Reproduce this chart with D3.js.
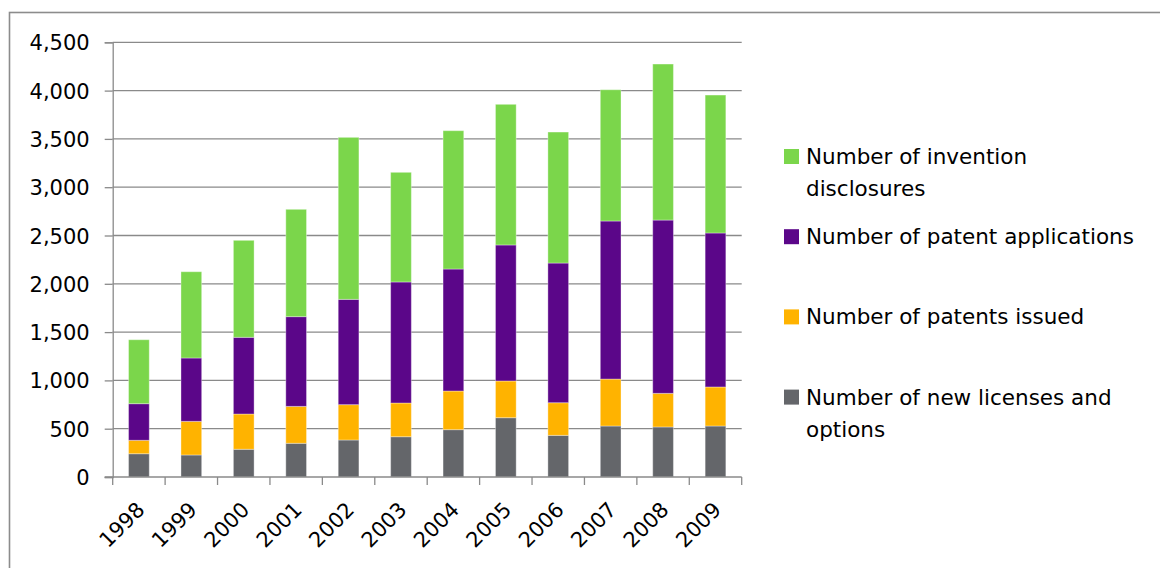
<!DOCTYPE html>
<html>
<head>
<meta charset="utf-8">
<script src="https://cdn.jsdelivr.net/npm/d3@7"></script>
<style>
  html, body { margin: 0; padding: 0; background: #fff; }
  svg { display: block; }
  text { font-family: "DejaVu Sans", sans-serif; fill: #000; }
</style>
</head>
<body>
<svg id="chart" width="1160" height="568"></svg>
<script>
// Technology transfer activity per year
const years = ["1998","1999","2000","2001","2002","2003","2004","2005","2006","2007","2008","2009"];
const licenses     = [241, 228, 287, 349, 383, 417, 490, 614, 431, 528, 518, 528];
const patentsIssued = [139, 348, 365, 382, 366, 349, 400, 380, 338, 486, 348, 404];
const applications = [379, 656, 794, 929, 1090, 1253, 1263, 1408, 1446, 1636, 1794, 1594];
const disclosures  = [662, 893, 1004, 1111, 1677, 1135, 1432, 1456, 1356, 1359, 1615, 1428];
const yTicks = [0, 500, 1000, 1500, 2000, 2500, 3000, 3500, 4000, 4500];

// Stacking order bottom to top
const series = [
  { key: "licenses",     values: licenses,      color: "#64666a", label: ["Number of new licenses and", "options"] },
  { key: "issued",       values: patentsIssued, color: "#ffb300", label: ["Number of patents issued"] },
  { key: "applications", values: applications,  color: "#5b0689", label: ["Number of patent applications"] },
  { key: "disclosures",  values: disclosures,   color: "#7bd64b", label: ["Number of invention", "disclosures"] }
];

const svg = d3.select("#chart");
const plot = { left: 112.7, right: 741.7, top: 42.3, bottom: 477 };

// Outer frame
svg.append("rect")
  .attr("x", 9.5).attr("y", 12.5)
  .attr("width", 1200).attr("height", 600)
  .attr("fill", "none").attr("stroke", "#8c8c8c").attr("stroke-width", 1.6);

const x = d3.scaleBand().domain(years).range([plot.left, plot.right]).padding(0);
const y = d3.scaleLinear().domain([0, 4500]).range([plot.bottom, plot.top]);

// Horizontal gridlines
svg.append("g")
  .selectAll("line")
  .data(yTicks.filter(t => t > 0))
  .join("line")
  .attr("x1", plot.left).attr("x2", plot.right)
  .attr("y1", d => y(d)).attr("y2", d => y(d))
  .attr("stroke", "#8a8a8a").attr("stroke-width", 1.3);

// Stacked bars
const table = years.map((yr, i) => {
  const row = { year: yr };
  series.forEach(s => { row[s.key] = s.values[i]; });
  return row;
});
const stack = d3.stack().keys(series.map(s => s.key))(table);
const barW = x.bandwidth() * 0.395;

svg.append("g")
  .selectAll("g")
  .data(stack)
  .join("g")
  .attr("fill", (d, i) => series[i].color)
  .selectAll("rect")
  .data(d => d)
  .join("rect")
  .attr("x", d => x(d.data.year) + (x.bandwidth() - barW) / 2)
  .attr("width", barW)
  .attr("y", d => y(d[1]))
  .attr("height", d => y(d[0]) - y(d[1]))
  .attr("stroke", "rgba(255,255,255,0.35)")
  .attr("stroke-width", 1);

// Y axis
const yAxis = svg.append("g")
  .attr("transform", `translate(${plot.left},0)`)
  .call(d3.axisLeft(y).tickValues(yTicks).tickSize(8).tickPadding(15)
    .tickFormat(d3.format(",")));
yAxis.select(".domain").attr("stroke", "#8a8a8a").attr("stroke-width", 1.3);
yAxis.selectAll(".tick line").attr("stroke", "#8a8a8a").attr("stroke-width", 1.3);
yAxis.selectAll(".tick text")
  .style("font-size", "21px").style("font-family", "DejaVu Sans, sans-serif")
  .attr("fill", "#000").attr("dy", "0.36em");

// X axis with ticks at category boundaries
const xAxisG = svg.append("g").attr("transform", `translate(0,${plot.bottom})`);
xAxisG.append("line")
  .attr("x1", plot.left - 8).attr("x2", plot.right)
  .attr("stroke", "#8a8a8a").attr("stroke-width", 1.3);
xAxisG.selectAll("line.tk")
  .data(years.map(yr => x(yr)).concat([plot.right]))
  .join("line").attr("class", "tk")
  .attr("x1", d => d).attr("x2", d => d)
  .attr("y1", 0).attr("y2", 8)
  .attr("stroke", "#8a8a8a").attr("stroke-width", 1.3);
xAxisG.selectAll("text")
  .data(years)
  .join("text")
  .attr("text-anchor", "end")
  .attr("transform", d => `translate(${x(d) + x.bandwidth() / 2 + 7},${34}) rotate(-45)`)
  .style("font-size", "21px")
  .text(d => d);

// Legend
const legend = svg.append("g");
const legendOrder = series.slice().reverse();
legendOrder.forEach((s, i) => {
  const base = 164 + i * 80.2;
  legend.append("rect")
    .attr("x", 784).attr("y", base - 15)
    .attr("width", 15).attr("height", 15)
    .attr("fill", s.color);
  const t = legend.append("text").attr("x", 806).attr("y", base).style("font-size", "21.5px");
  s.label.forEach((line, j) => {
    t.append("tspan").attr("x", 806).attr("y", base + j * 32).text(line);
  });
});
</script>
</body>
</html>
